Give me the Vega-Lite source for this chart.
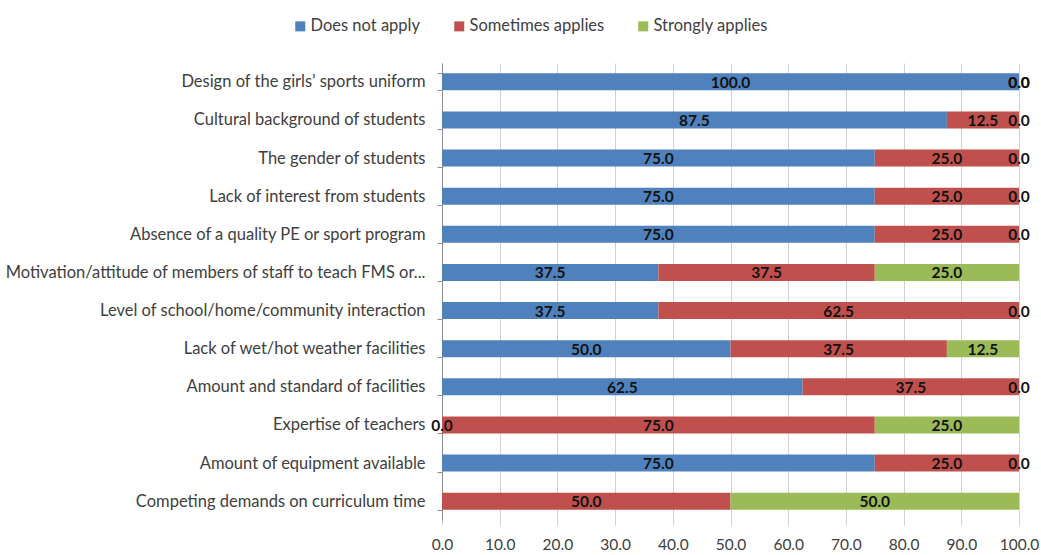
{
  "$schema": "https://vega.github.io/schema/vega-lite/v6.json",
  "width": 577,
  "height": 457,
  "autosize": {"type": "none"},
  "padding": {"left": 442, "top": 63, "right": 22, "bottom": 35},
  "background": "white",
  "config": {
    "view": {"stroke": null},
    "font": "Lato"
  },
  "data": {
    "values": [
      {"cat": "Design of the girls’ sports uniform", "response": "Does not apply", "pct": 100.0},
      {"cat": "Design of the girls’ sports uniform", "response": "Sometimes applies", "pct": 0.0},
      {"cat": "Design of the girls’ sports uniform", "response": "Strongly applies", "pct": 0.0},
      {"cat": "Cultural background of students", "response": "Does not apply", "pct": 87.5},
      {"cat": "Cultural background of students", "response": "Sometimes applies", "pct": 12.5},
      {"cat": "Cultural background of students", "response": "Strongly applies", "pct": 0.0},
      {"cat": "The gender of students", "response": "Does not apply", "pct": 75.0},
      {"cat": "The gender of students", "response": "Sometimes applies", "pct": 25.0},
      {"cat": "The gender of students", "response": "Strongly applies", "pct": 0.0},
      {"cat": "Lack of interest from students", "response": "Does not apply", "pct": 75.0},
      {"cat": "Lack of interest from students", "response": "Sometimes applies", "pct": 25.0},
      {"cat": "Lack of interest from students", "response": "Strongly applies", "pct": 0.0},
      {"cat": "Absence of a quality PE or sport program", "response": "Does not apply", "pct": 75.0},
      {"cat": "Absence of a quality PE or sport program", "response": "Sometimes applies", "pct": 25.0},
      {"cat": "Absence of a quality PE or sport program", "response": "Strongly applies", "pct": 0.0},
      {"cat": "Motivation/attitude of members of staff to teach FMS or...", "response": "Does not apply", "pct": 37.5},
      {"cat": "Motivation/attitude of members of staff to teach FMS or...", "response": "Sometimes applies", "pct": 37.5},
      {"cat": "Motivation/attitude of members of staff to teach FMS or...", "response": "Strongly applies", "pct": 25.0},
      {"cat": "Level of school/home/community interaction", "response": "Does not apply", "pct": 37.5},
      {"cat": "Level of school/home/community interaction", "response": "Sometimes applies", "pct": 62.5},
      {"cat": "Level of school/home/community interaction", "response": "Strongly applies", "pct": 0.0},
      {"cat": "Lack of wet/hot weather facilities", "response": "Does not apply", "pct": 50.0},
      {"cat": "Lack of wet/hot weather facilities", "response": "Sometimes applies", "pct": 37.5},
      {"cat": "Lack of wet/hot weather facilities", "response": "Strongly applies", "pct": 12.5},
      {"cat": "Amount and standard of facilities", "response": "Does not apply", "pct": 62.5},
      {"cat": "Amount and standard of facilities", "response": "Sometimes applies", "pct": 37.5},
      {"cat": "Amount and standard of facilities", "response": "Strongly applies", "pct": 0.0},
      {"cat": "Expertise of teachers", "response": "Does not apply", "pct": 0.0},
      {"cat": "Expertise of teachers", "response": "Sometimes applies", "pct": 75.0},
      {"cat": "Expertise of teachers", "response": "Strongly applies", "pct": 25.0},
      {"cat": "Amount of equipment available", "response": "Does not apply", "pct": 75.0},
      {"cat": "Amount of equipment available", "response": "Sometimes applies", "pct": 25.0},
      {"cat": "Amount of equipment available", "response": "Strongly applies", "pct": 0.0},
      {"cat": "Competing demands on curriculum time", "response": "Sometimes applies", "pct": 50.0},
      {"cat": "Competing demands on curriculum time", "response": "Strongly applies", "pct": 50.0}
    ]
  },
  "encoding": {
    "y": {
      "field": "cat",
      "type": "nominal",
      "sort": [
        "Design of the girls’ sports uniform",
        "Cultural background of students",
        "The gender of students",
        "Lack of interest from students",
        "Absence of a quality PE or sport program",
        "Motivation/attitude of members of staff to teach FMS or...",
        "Level of school/home/community interaction",
        "Lack of wet/hot weather facilities",
        "Amount and standard of facilities",
        "Expertise of teachers",
        "Amount of equipment available",
        "Competing demands on curriculum time"
      ],
      "scale": {"paddingInner": 0.55, "paddingOuter": 0.27},
      "axis": {
        "title": null,
        "labelFont": "Lato",
        "labelFontSize": 16.5,
        "labelColor": "#404040",
        "labelPadding": 12,
        "labelLimit": 500,
        "domainColor": "#8c8c8c",
        "tickColor": "#8c8c8c",
        "tickBand": "extent",
        "tickSize": 5,
        "grid": false
      }
    }
  },
  "layer": [
    {
      "mark": {"type": "bar", "size": 17},
      "encoding": {
        "x": {
          "field": "pct",
          "type": "quantitative",
          "stack": "zero",
          "scale": {"domain": [0, 100], "nice": false},
          "axis": {
            "title": null,
            "values": [0, 10, 20, 30, 40, 50, 60, 70, 80, 90, 100],
            "format": ".1f",
            "labelFont": "Lato",
            "labelFontSize": 15.5,
            "labelColor": "#404040",
            "labelPadding": 12,
            "grid": true,
            "gridColor": "#d0d0d0",
            "domain": false,
            "tickColor": "#d0d0d0",
            "tickSize": 5,
            "labelFlush": false
          }
        },
        "color": {
          "field": "response",
          "type": "nominal",
          "scale": {
            "domain": ["Does not apply", "Sometimes applies", "Strongly applies"],
            "range": ["#4F81BD", "#C0504D", "#9BBB59"]
          },
          "legend": {
            "title": null,
            "orient": "none",
            "direction": "horizontal",
            "legendX": -150,
            "legendY": -45,
            "symbolType": "square",
            "symbolSize": 100,
            "symbolStrokeWidth": 0,
            "labelFont": "Lato",
            "labelFontSize": 16.5,
            "labelColor": "#404040",
            "columnPadding": 30,
            "labelOffset": 2
          }
        },
        "order": {"field": "response", "sort": "ascending"}
      }
    },
    {
      "transform": [
        {"stack": "pct", "groupby": ["cat"], "sort": [{"field": "response", "order": "ascending"}], "as": ["v0", "v1"]},
        {"fold": ["v0", "v1"], "as": ["edge", "pos"]},
        {"aggregate": [{"op": "mean", "field": "pos", "as": "mid"}], "groupby": ["cat", "response", "pct"]}
      ],
      "mark": {"type": "text", "font": "Lato", "fontWeight": "bold", "fontSize": 15.5, "color": "#111111", "baseline": "middle", "align": "center", "dy": 1},
      "encoding": {
        "x": {"field": "mid", "type": "quantitative"},
        "text": {"field": "pct", "type": "quantitative", "format": ".1f"}
      }
    }
  ]
}
